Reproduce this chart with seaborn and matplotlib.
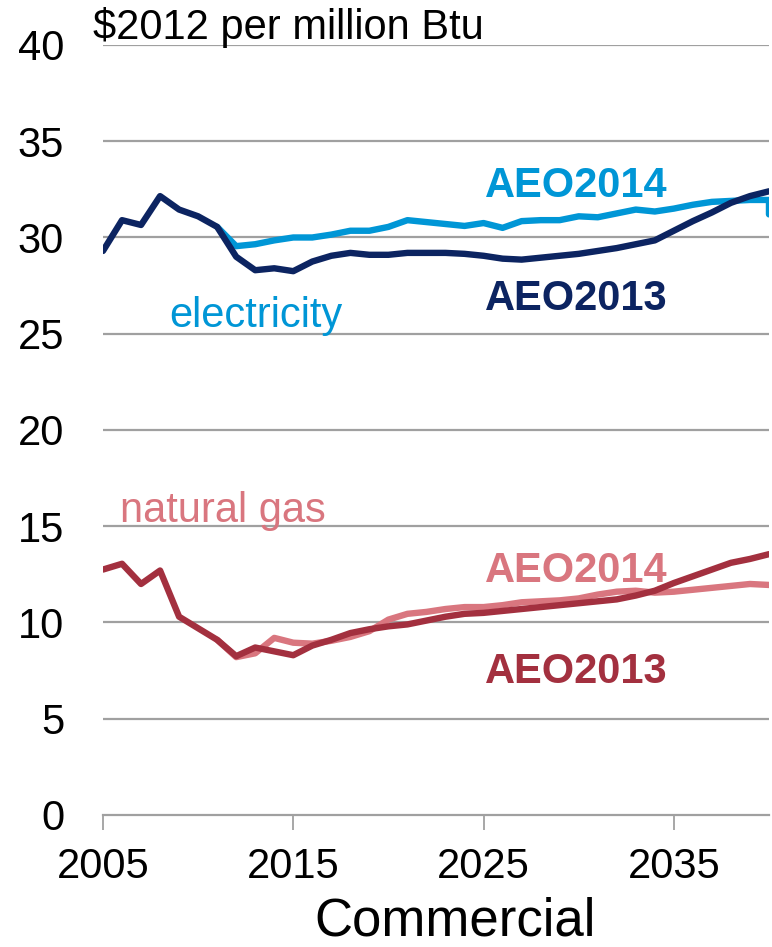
import pandas as pd
import seaborn as sns
import matplotlib.pyplot as plt

# commercial prices, $2012 per million Btu
years_2013 = list(range(2005, 2041))
elec_2013 = [29.3, 30.9, 30.65, 32.15, 31.45, 31.1, 30.55, 29.0, 28.3, 28.4,
             28.25, 28.75, 29.05, 29.2, 29.1, 29.1, 29.2, 29.2, 29.2, 29.15,
             29.05, 28.9, 28.85, 28.95, 29.05, 29.15, 29.3, 29.45, 29.65, 29.85,
             30.35, 30.85, 31.3, 31.8, 32.15, 32.4]
gas_2013 = [12.75, 13.05, 12.0, 12.7, 10.3, 9.7, 9.1, 8.25, 8.7, 8.5,
            8.3, 8.8, 9.1, 9.45, 9.65, 9.8, 9.9, 10.1, 10.3, 10.45,
            10.5, 10.6, 10.7, 10.8, 10.9, 11.0, 11.1, 11.2, 11.4, 11.65,
            12.05, 12.4, 12.75, 13.1, 13.3, 13.55]

years_2014 = list(range(2011, 2041))
elec_2014 = [30.55, 29.55, 29.65, 29.85, 30.0, 30.0, 30.15, 30.35, 30.35, 30.55,
             30.9, 30.8, 30.7, 30.6, 30.75, 30.5, 30.85, 30.9, 30.9, 31.1,
             31.05, 31.25, 31.45, 31.35, 31.5, 31.7, 31.85, 31.9, 31.95, 31.95]
gas_2014 = [9.1, 8.2, 8.4, 9.2, 8.95, 8.9, 9.05, 9.25, 9.55, 10.15,
            10.45, 10.55, 10.7, 10.8, 10.8, 10.9, 11.05, 11.1, 11.15, 11.25,
            11.45, 11.6, 11.65, 11.55, 11.6, 11.7, 11.8, 11.9, 12.0, 11.95]
# the AEO2014 electricity line drops straight down at the very end
elec_2014_end = 31.2

x_ticks = [2005, 2015, 2025, 2035]
y_ticks = [0, 5, 10, 15, 20, 25, 30, 35, 40]

navy = '#0c2461'
lightblue = '#0096d6'
darkred = '#a3303f'
pink = '#d9767f'
grid = '#a0a0a0'

sns.set_style('white')
plt.rcParams['font.family'] = ['Liberation Sans', 'DejaVu Sans']
plt.rcParams['text.color'] = 'black'
plt.rcParams['xtick.labelcolor'] = 'black'
plt.rcParams['ytick.labelcolor'] = 'black'

df13 = pd.DataFrame({'year': years_2013, 'elec': elec_2013, 'gas': gas_2013})
df14 = pd.DataFrame({'year': years_2014 + [2040], 'elec': elec_2014 + [elec_2014_end],
                     'gas': gas_2014 + [gas_2014[-1]]})

fig = plt.figure(figsize=(7.72, 9.47), dpi=100)
ax = fig.add_axes([0.1334, 0.1394, 0.8627, 0.8131])

for y in y_ticks[1:]:
    ax.axhline(y, color=grid, lw=1.6, zorder=0)

lw = 4.6
sns.lineplot(data=df14, x='year', y='elec', color=lightblue, lw=lw, ax=ax,
             estimator=None, sort=False)
sns.lineplot(data=df13, x='year', y='elec', color=navy, lw=lw, ax=ax)
sns.lineplot(data=df14, x='year', y='gas', color=pink, lw=lw, ax=ax,
             estimator=None, sort=False)
sns.lineplot(data=df13, x='year', y='gas', color=darkred, lw=lw, ax=ax)

ax.set_xlim(2005, 2040)
ax.set_ylim(0, 40)
ax.set_xticks(x_ticks)
ax.set_yticks(y_ticks)
ax.set_xlabel('')
ax.set_ylabel('')
for s in ['top', 'right', 'left']:
    ax.spines[s].set_visible(False)
ax.spines['bottom'].set_color(grid)
ax.spines['bottom'].set_linewidth(1.6)
ax.tick_params(axis='x', bottom=True, direction='out', length=11, width=1.3,
               color=grid, pad=12, labelsize=30)
ax.tick_params(axis='y', left=False, length=0, pad=28, labelsize=30)

ax.text(2025.07, 32.1, 'AEO2014', color=lightblue, fontsize=30, fontweight='bold')
ax.text(2025.07, 26.23, 'AEO2013', color=navy, fontsize=30, fontweight='bold')
ax.text(2008.5, 25.35, 'electricity', color=lightblue, fontsize=30)
ax.text(2005.9, 15.22, 'natural gas', color=pink, fontsize=30)
ax.text(2025.07, 12.12, 'AEO2014', color=pink, fontsize=30, fontweight='bold')
ax.text(2025.07, 6.86, 'AEO2013', color=darkred, fontsize=30, fontweight='bold')

fig.text(93 / 772, 1 - 39 / 947, '$2012 per million Btu', fontsize=30, va='baseline')
fig.text(455 / 772, 1 - 935 / 947, 'Commercial', fontsize=38, ha='center', va='baseline')

fig.savefig('out.png', dpi=100)
